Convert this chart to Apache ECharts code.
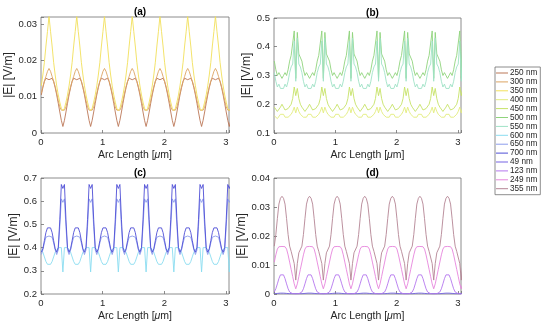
<!DOCTYPE html>
<html><head><meta charset="utf-8">
<script src="https://cdn.jsdelivr.net/npm/echarts@6/dist/echarts.min.js"></script>
<style>html,body{margin:0;padding:0;background:#fff}#c{width:550px;height:329px}</style>
</head><body><div id="c"></div>
<script>
// sampling grid of arc length (um)
const arcStart = 0.005, arcStep = 0.025;
const legendNames = ['250 nm','300 nm','350 nm','400 nm','450 nm','500 nm','550 nm','600 nm','650 nm','700 nm','49 nm','123 nm','249 nm','355 nm'];
const colors = ['#bb7656','#dca462','#f2e05a','#e2ec7c','#c6e266','#8fd47c','#9fe2c6','#8adcf0','#8c9cec','#4e4ed6','#7462e2','#b476ee','#e684dc','#b48494'];
const panelOf = [0,0,0,1,1,1,1,2,2,2,3,3,3,3];
const xTicks = [0,1,2,3];
const yA = [0,0.01,0.02,0.03], yB = [0.1,0.2,0.3,0.4,0.5], yC = [0.2,0.3,0.4,0.5,0.6,0.7], yD = [0,0.01,0.02,0.03,0.04];

const e250 = [0.0105,0.0125,0.0142,0.0151,0.0150,0.0147,0.0150,0.0151,0.0142,0.0125,0.0105,0.0082,0.0058,0.0035,0.0018,0.0035,0.0058,0.0082,
0.0105,0.0125,0.0142,0.0151,0.0150,0.0147,0.0150,0.0151,0.0142,0.0125,0.0105,0.0082,0.0058,0.0035,0.0018,0.0035,0.0058,0.0082,
0.0105,0.0125,0.0142,0.0151,0.0150,0.0147,0.0150,0.0151,0.0142,0.0125,0.0105,0.0082,0.0058,0.0035,0.0018,0.0035,0.0058,0.0082,
0.0105,0.0125,0.0142,0.0151,0.0150,0.0147,0.0150,0.0151,0.0142,0.0125,0.0105,0.0082,0.0058,0.0035,0.0018,0.0035,0.0058,0.0082,
0.0105,0.0125,0.0142,0.0151,0.0150,0.0147,0.0150,0.0151,0.0142,0.0125,0.0105,0.0082,0.0058,0.0035,0.0018,0.0035,0.0058,0.0082,
0.0105,0.0125,0.0142,0.0151,0.0150,0.0147,0.0150,0.0151,0.0142,0.0125,0.0105,0.0082,0.0058,0.0035,0.0018,0.0035,0.0058,0.0082,
0.0105,0.0125,0.0142,0.0151,0.0150,0.0147,0.0150,0.0151,0.0142,0.0125,0.0105,0.0082,0.0058,0.0035,0.0018,0.0035,0.0058,0.0082];
const e300 = [0.011,0.0128,0.0143,0.0156,0.017,0.0178,0.017,0.0156,0.0143,0.0128,0.011,0.009,0.0072,0.0063,0.006,0.0063,0.0072,0.009,
0.011,0.0128,0.0143,0.0156,0.017,0.0178,0.017,0.0156,0.0143,0.0128,0.011,0.009,0.0072,0.0063,0.006,0.0063,0.0072,0.009,
0.011,0.0128,0.0143,0.0156,0.017,0.0178,0.017,0.0156,0.0143,0.0128,0.011,0.009,0.0072,0.0063,0.006,0.0063,0.0072,0.009,
0.011,0.0128,0.0143,0.0156,0.017,0.0178,0.017,0.0156,0.0143,0.0128,0.011,0.009,0.0072,0.0063,0.006,0.0063,0.0072,0.009,
0.011,0.0128,0.0143,0.0156,0.017,0.0178,0.017,0.0156,0.0143,0.0128,0.011,0.009,0.0072,0.0063,0.006,0.0063,0.0072,0.009,
0.011,0.0128,0.0143,0.0156,0.017,0.0178,0.017,0.0156,0.0143,0.0128,0.011,0.009,0.0072,0.0063,0.006,0.0063,0.0072,0.009,
0.011,0.0128,0.0143,0.0156,0.017,0.0178,0.017,0.0156,0.0143,0.0128,0.011,0.009,0.0072,0.0063,0.006,0.0063,0.0072,0.009];
const e350 = [0.013,0.016,0.0195,0.024,0.028,0.0322,0.028,0.024,0.0195,0.016,0.013,0.0105,0.0085,0.0068,0.0062,0.0068,0.0085,0.0105,
0.013,0.016,0.0195,0.024,0.028,0.0322,0.028,0.024,0.0195,0.016,0.013,0.0105,0.0085,0.0068,0.0062,0.0068,0.0085,0.0105,
0.013,0.016,0.0195,0.024,0.028,0.0322,0.028,0.024,0.0195,0.016,0.013,0.0105,0.0085,0.0068,0.0062,0.0068,0.0085,0.0105,
0.013,0.016,0.0195,0.024,0.028,0.0322,0.028,0.024,0.0195,0.016,0.013,0.0105,0.0085,0.0068,0.0062,0.0068,0.0085,0.0105,
0.013,0.016,0.0195,0.024,0.028,0.0322,0.028,0.024,0.0195,0.016,0.013,0.0105,0.0085,0.0068,0.0062,0.0068,0.0085,0.0105,
0.013,0.016,0.0195,0.024,0.028,0.0322,0.028,0.024,0.0195,0.016,0.013,0.0105,0.0085,0.0068,0.0062,0.0068,0.0085,0.0105,
0.013,0.016,0.0195,0.024,0.028,0.0322,0.028,0.024,0.0195,0.016,0.013,0.0105,0.0085,0.0068,0.0062,0.0068,0.0085,0.0105];
const e400 = [0.16,0.155,0.15,0.155,0.165,0.17,0.165,0.155,0.15,0.155,0.16,0.165,0.175,0.19,0.17,0.19,0.175,0.165,
0.16,0.155,0.15,0.155,0.165,0.17,0.165,0.155,0.15,0.155,0.16,0.165,0.175,0.19,0.17,0.19,0.175,0.165,
0.16,0.155,0.15,0.155,0.165,0.17,0.165,0.155,0.15,0.155,0.16,0.165,0.175,0.19,0.17,0.19,0.175,0.165,
0.16,0.155,0.15,0.155,0.165,0.17,0.165,0.155,0.15,0.155,0.16,0.165,0.175,0.19,0.17,0.19,0.175,0.165,
0.16,0.155,0.15,0.155,0.165,0.17,0.165,0.155,0.15,0.155,0.16,0.165,0.175,0.19,0.17,0.19,0.175,0.165,
0.16,0.155,0.15,0.155,0.165,0.17,0.165,0.155,0.15,0.155,0.16,0.165,0.175,0.19,0.17,0.19,0.175,0.165,
0.16,0.155,0.15,0.155,0.165,0.17,0.165,0.155,0.15,0.155,0.16,0.165,0.175,0.19,0.17,0.19,0.175,0.165];
const e450 = [0.19,0.185,0.175,0.18,0.19,0.2,0.19,0.18,0.175,0.185,0.19,0.2,0.22,0.26,0.23,0.255,0.22,0.2,
0.19,0.185,0.175,0.18,0.19,0.2,0.19,0.18,0.175,0.185,0.19,0.2,0.22,0.26,0.23,0.255,0.22,0.2,
0.19,0.185,0.175,0.18,0.19,0.2,0.19,0.18,0.175,0.185,0.19,0.2,0.22,0.26,0.23,0.255,0.22,0.2,
0.19,0.185,0.175,0.18,0.19,0.2,0.19,0.18,0.175,0.185,0.19,0.2,0.22,0.26,0.23,0.255,0.22,0.2,
0.19,0.185,0.175,0.18,0.19,0.2,0.19,0.18,0.175,0.185,0.19,0.2,0.22,0.26,0.23,0.255,0.22,0.2,
0.19,0.185,0.175,0.18,0.19,0.2,0.19,0.18,0.175,0.185,0.19,0.2,0.22,0.26,0.23,0.255,0.22,0.2,
0.19,0.185,0.175,0.18,0.19,0.2,0.19,0.18,0.175,0.185,0.19,0.2,0.22,0.26,0.23,0.255,0.22,0.2];
const e500 = [0.35,0.32,0.3,0.31,0.3,0.29,0.3,0.31,0.3,0.32,0.35,0.37,0.375,0.455,0.29,0.45,0.375,0.37,
0.35,0.32,0.3,0.31,0.3,0.29,0.3,0.31,0.3,0.32,0.35,0.37,0.375,0.455,0.29,0.45,0.375,0.37,
0.35,0.32,0.3,0.31,0.3,0.29,0.3,0.31,0.3,0.32,0.35,0.37,0.375,0.455,0.29,0.45,0.375,0.37,
0.35,0.32,0.3,0.31,0.3,0.29,0.3,0.31,0.3,0.32,0.35,0.37,0.375,0.455,0.29,0.45,0.375,0.37,
0.35,0.32,0.3,0.31,0.3,0.29,0.3,0.31,0.3,0.32,0.35,0.37,0.375,0.455,0.29,0.45,0.375,0.37,
0.35,0.32,0.3,0.31,0.3,0.29,0.3,0.31,0.3,0.32,0.35,0.37,0.375,0.455,0.29,0.45,0.375,0.37,
0.35,0.32,0.3,0.31,0.3,0.29,0.3,0.31,0.3,0.32,0.35,0.37,0.375,0.455,0.29,0.45,0.375,0.37];
const e550 = [0.31,0.28,0.26,0.27,0.255,0.25,0.255,0.27,0.26,0.28,0.31,0.33,0.34,0.42,0.28,0.43,0.34,0.33,
0.31,0.28,0.26,0.27,0.255,0.25,0.255,0.27,0.26,0.28,0.31,0.33,0.34,0.42,0.28,0.43,0.34,0.33,
0.31,0.28,0.26,0.27,0.255,0.25,0.255,0.27,0.26,0.28,0.31,0.33,0.34,0.42,0.28,0.43,0.34,0.33,
0.31,0.28,0.26,0.27,0.255,0.25,0.255,0.27,0.26,0.28,0.31,0.33,0.34,0.42,0.28,0.43,0.34,0.33,
0.31,0.28,0.26,0.27,0.255,0.25,0.255,0.27,0.26,0.28,0.31,0.33,0.34,0.42,0.28,0.43,0.34,0.33,
0.31,0.28,0.26,0.27,0.255,0.25,0.255,0.27,0.26,0.28,0.31,0.33,0.34,0.42,0.28,0.43,0.34,0.33,
0.31,0.28,0.26,0.27,0.255,0.25,0.255,0.27,0.26,0.28,0.31,0.33,0.34,0.42,0.28,0.43,0.34,0.33];
const e600 = [0.39,0.38,0.36,0.34,0.328,0.325,0.328,0.34,0.36,0.38,0.39,0.4,0.405,0.4,0.295,0.4,0.405,0.4,
0.39,0.38,0.36,0.34,0.328,0.325,0.328,0.34,0.36,0.38,0.39,0.4,0.405,0.4,0.295,0.4,0.405,0.4,
0.39,0.38,0.36,0.34,0.328,0.325,0.328,0.34,0.36,0.38,0.39,0.4,0.405,0.4,0.295,0.4,0.405,0.4,
0.39,0.38,0.36,0.34,0.328,0.325,0.328,0.34,0.36,0.38,0.39,0.4,0.405,0.4,0.295,0.4,0.405,0.4,
0.39,0.38,0.36,0.34,0.328,0.325,0.328,0.34,0.36,0.38,0.39,0.4,0.405,0.4,0.295,0.4,0.405,0.4,
0.39,0.38,0.36,0.34,0.328,0.325,0.328,0.34,0.36,0.38,0.39,0.4,0.405,0.4,0.295,0.4,0.405,0.4,
0.39,0.38,0.36,0.34,0.328,0.325,0.328,0.34,0.36,0.38,0.39,0.4,0.405,0.4,0.295,0.4,0.405,0.4];
const e650 = [0.37,0.39,0.42,0.445,0.45,0.45,0.45,0.445,0.42,0.39,0.37,0.39,0.49,0.61,0.595,0.61,0.49,0.39,
0.37,0.39,0.42,0.445,0.45,0.45,0.45,0.445,0.42,0.39,0.37,0.39,0.49,0.61,0.595,0.61,0.49,0.39,
0.37,0.39,0.42,0.445,0.45,0.45,0.45,0.445,0.42,0.39,0.37,0.39,0.49,0.61,0.595,0.61,0.49,0.39,
0.37,0.39,0.42,0.445,0.45,0.45,0.45,0.445,0.42,0.39,0.37,0.39,0.49,0.61,0.595,0.61,0.49,0.39,
0.37,0.39,0.42,0.445,0.45,0.45,0.45,0.445,0.42,0.39,0.37,0.39,0.49,0.61,0.595,0.61,0.49,0.39,
0.37,0.39,0.42,0.445,0.45,0.45,0.45,0.445,0.42,0.39,0.37,0.39,0.49,0.61,0.595,0.61,0.49,0.39,
0.37,0.39,0.42,0.445,0.45,0.45,0.45,0.445,0.42,0.39,0.37,0.39,0.49,0.61,0.595,0.61,0.49,0.39];
const e700 = [0.38,0.395,0.43,0.465,0.485,0.49,0.485,0.465,0.43,0.395,0.38,0.4,0.52,0.672,0.655,0.672,0.52,0.4,
0.38,0.395,0.43,0.465,0.485,0.49,0.485,0.465,0.43,0.395,0.38,0.4,0.52,0.672,0.655,0.672,0.52,0.4,
0.38,0.395,0.43,0.465,0.485,0.49,0.485,0.465,0.43,0.395,0.38,0.4,0.52,0.672,0.655,0.672,0.52,0.4,
0.38,0.395,0.43,0.465,0.485,0.49,0.485,0.465,0.43,0.395,0.38,0.4,0.52,0.672,0.655,0.672,0.52,0.4,
0.38,0.395,0.43,0.465,0.485,0.49,0.485,0.465,0.43,0.395,0.38,0.4,0.52,0.672,0.655,0.672,0.52,0.4,
0.38,0.395,0.43,0.465,0.485,0.49,0.485,0.465,0.43,0.395,0.38,0.4,0.52,0.672,0.655,0.672,0.52,0.4,
0.38,0.395,0.43,0.465,0.485,0.49,0.485,0.465,0.43,0.395,0.38,0.4,0.52,0.672,0.655,0.672,0.52,0.4];
const e49 = [0.0001,0.0001,0.0002,0.0002,0.0003,0.0003,0.0003,0.0002,0.0002,0.0001,0.0001,0.0001,0.0001,0.0001,0.0001,0.0001,0.0001,0.0001,
0.0001,0.0001,0.0002,0.0002,0.0003,0.0003,0.0003,0.0002,0.0002,0.0001,0.0001,0.0001,0.0001,0.0001,0.0001,0.0001,0.0001,0.0001,
0.0001,0.0001,0.0002,0.0002,0.0003,0.0003,0.0003,0.0002,0.0002,0.0001,0.0001,0.0001,0.0001,0.0001,0.0001,0.0001,0.0001,0.0001,
0.0001,0.0001,0.0002,0.0002,0.0003,0.0003,0.0003,0.0002,0.0002,0.0001,0.0001,0.0001,0.0001,0.0001,0.0001,0.0001,0.0001,0.0001,
0.0001,0.0001,0.0002,0.0002,0.0003,0.0003,0.0003,0.0002,0.0002,0.0001,0.0001,0.0001,0.0001,0.0001,0.0001,0.0001,0.0001,0.0001,
0.0001,0.0001,0.0002,0.0002,0.0003,0.0003,0.0003,0.0002,0.0002,0.0001,0.0001,0.0001,0.0001,0.0001,0.0001,0.0001,0.0001,0.0001,
0.0001,0.0001,0.0002,0.0002,0.0003,0.0003,0.0003,0.0002,0.0002,0.0001,0.0001,0.0001,0.0001,0.0001,0.0001,0.0001,0.0001,0.0001];
const e123 = [0.0007,0.0018,0.0035,0.0053,0.0066,0.0071,0.0066,0.0053,0.0035,0.0018,0.0007,0.0002,0.0001,0,0,0,0.0001,0.0002,
0.0007,0.0018,0.0035,0.0053,0.0066,0.0071,0.0066,0.0053,0.0035,0.0018,0.0007,0.0002,0.0001,0,0,0,0.0001,0.0002,
0.0007,0.0018,0.0035,0.0053,0.0066,0.0071,0.0066,0.0053,0.0035,0.0018,0.0007,0.0002,0.0001,0,0,0,0.0001,0.0002,
0.0007,0.0018,0.0035,0.0053,0.0066,0.0071,0.0066,0.0053,0.0035,0.0018,0.0007,0.0002,0.0001,0,0,0,0.0001,0.0002,
0.0007,0.0018,0.0035,0.0053,0.0066,0.0071,0.0066,0.0053,0.0035,0.0018,0.0007,0.0002,0.0001,0,0,0,0.0001,0.0002,
0.0007,0.0018,0.0035,0.0053,0.0066,0.0071,0.0066,0.0053,0.0035,0.0018,0.0007,0.0002,0.0001,0,0,0,0.0001,0.0002,
0.0007,0.0018,0.0035,0.0053,0.0066,0.0071,0.0066,0.0053,0.0035,0.0018,0.0007,0.0002,0.0001,0,0,0,0.0001,0.0002];
const e249 = [0.011,0.0135,0.0155,0.0163,0.0165,0.0164,0.0165,0.0163,0.0155,0.0135,0.011,0.0085,0.006,0.0035,0.0018,0.0035,0.006,0.0085,
0.011,0.0135,0.0155,0.0163,0.0165,0.0164,0.0165,0.0163,0.0155,0.0135,0.011,0.0085,0.006,0.0035,0.0018,0.0035,0.006,0.0085,
0.011,0.0135,0.0155,0.0163,0.0165,0.0164,0.0165,0.0163,0.0155,0.0135,0.011,0.0085,0.006,0.0035,0.0018,0.0035,0.006,0.0085,
0.011,0.0135,0.0155,0.0163,0.0165,0.0164,0.0165,0.0163,0.0155,0.0135,0.011,0.0085,0.006,0.0035,0.0018,0.0035,0.006,0.0085,
0.011,0.0135,0.0155,0.0163,0.0165,0.0164,0.0165,0.0163,0.0155,0.0135,0.011,0.0085,0.006,0.0035,0.0018,0.0035,0.006,0.0085,
0.011,0.0135,0.0155,0.0163,0.0165,0.0164,0.0165,0.0163,0.0155,0.0135,0.011,0.0085,0.006,0.0035,0.0018,0.0035,0.006,0.0085,
0.011,0.0135,0.0155,0.0163,0.0165,0.0164,0.0165,0.0163,0.0155,0.0135,0.011,0.0085,0.006,0.0035,0.0018,0.0035,0.006,0.0085];
const e355 = [0.0165,0.0205,0.026,0.031,0.033,0.0337,0.033,0.031,0.026,0.0205,0.0165,0.0147,0.0142,0.0105,0.0048,0.0105,0.0142,0.0147,
0.0165,0.0205,0.026,0.031,0.033,0.0337,0.033,0.031,0.026,0.0205,0.0165,0.0147,0.0142,0.0105,0.0048,0.0105,0.0142,0.0147,
0.0165,0.0205,0.026,0.031,0.033,0.0337,0.033,0.031,0.026,0.0205,0.0165,0.0147,0.0142,0.0105,0.0048,0.0105,0.0142,0.0147,
0.0165,0.0205,0.026,0.031,0.033,0.0337,0.033,0.031,0.026,0.0205,0.0165,0.0147,0.0142,0.0105,0.0048,0.0105,0.0142,0.0147,
0.0165,0.0205,0.026,0.031,0.033,0.0337,0.033,0.031,0.026,0.0205,0.0165,0.0147,0.0142,0.0105,0.0048,0.0105,0.0142,0.0147,
0.0165,0.0205,0.026,0.031,0.033,0.0337,0.033,0.031,0.026,0.0205,0.0165,0.0147,0.0142,0.0105,0.0048,0.0105,0.0142,0.0147,
0.0165,0.0205,0.026,0.031,0.033,0.0337,0.033,0.031,0.026,0.0205,0.0165,0.0147,0.0142,0.0105,0.0048,0.0105,0.0142,0.0147];

const seriesValues = [e250,e300,e350,e400,e450,e500,e550,e600,e650,e700,e49,e123,e249,e355];

const FONT = '"Liberation Sans", Arial, Helvetica, sans-serif';
const INK = '#262626', BOX = '#707070';
const grids = [
  {left: 41, top: 17, width: 188, height: 116},
  {left: 274, top: 18, width: 187, height: 115},
  {left: 41, top: 178, width: 188, height: 116},
  {left: 274, top: 178, width: 187, height: 116}
];
const yDefs = [
  {min: 0, max: 0.032, interval: 0.01, ticks: yA, gap: 24},
  {min: 0.1, max: 0.5, interval: 0.1, ticks: yB, gap: 18},
  {min: 0.2, max: 0.7, interval: 0.1, ticks: yC, gap: 18},
  {min: 0, max: 0.04, interval: 0.01, ticks: yD, gap: 24}
];
function fmt(ticks){
  return function(v){
    for (const t of ticks){ if (Math.abs(v - t) < 1e-9) return String(t); }
    return '';
  };
}
const titles = ['(a)','(b)','(c)','(d)'];

const option = {
  backgroundColor: '#fff',
  animation: false,
  textStyle: {fontFamily: FONT},
  title: grids.map((g, i) => ({
    text: titles[i], left: g.left + g.width / 2, top: g.top - 15, textAlign: 'center',
    textStyle: {fontSize: 10, fontWeight: 'bold', color: '#000', fontFamily: FONT}
  })),
  grid: grids.map(g => Object.assign({show: true, borderColor: BOX, borderWidth: 0.8, backgroundColor: '#fff', containLabel: false}, g)),
  xAxis: grids.map((g, i) => ({
    type: 'value', gridIndex: i, min: 0, max: 3.05, interval: 1,
    name: 'Arc Length [{i|μ}m]', nameLocation: 'middle', nameGap: 17,
    nameTextStyle: {fontSize: 10.5, color: INK, fontFamily: FONT, rich: {i: {fontStyle: 'italic', fontSize: 10.5, color: INK, fontFamily: FONT}}},
    axisLine: {show: false},
    axisTick: {show: true, inside: true, length: 3, lineStyle: {color: BOX, width: 0.8}},
    axisLabel: {fontSize: 9.5, color: INK, margin: 4, formatter: fmt(xTicks), fontFamily: FONT},
    splitLine: {show: false}
  })),
  yAxis: yDefs.map((d, i) => ({
    type: 'value', gridIndex: i, min: d.min, max: d.max, interval: d.interval,
    name: '|E| [V/m]', nameLocation: 'middle', nameGap: d.gap, nameRotate: 90,
    nameTextStyle: {fontSize: 12, color: INK, fontFamily: FONT},
    axisLine: {show: false},
    axisTick: {show: true, inside: true, length: 3, lineStyle: {color: BOX, width: 0.8}},
    axisLabel: {fontSize: 9.5, color: INK, margin: 4, formatter: fmt(d.ticks), fontFamily: FONT},
    splitLine: {show: false}
  })),
  legend: {
    orient: 'vertical', left: 495, top: 67, itemWidth: 12, itemHeight: 8, itemGap: 0.9,
    icon: 'path://M0,0 L12,0 L12,1 L0,1 Z',
    padding: [2, 3, 2, 1], borderColor: BOX, borderWidth: 0.8, backgroundColor: '#fff',
    textStyle: {fontSize: 8.2, color: INK, fontFamily: FONT, padding: [0, 0, 0, -3]},
    data: legendNames
  },
  series: seriesValues.map((vals, s) => ({
    type: 'line', name: legendNames[s], xAxisIndex: panelOf[s], yAxisIndex: panelOf[s],
    color: colors[s], showSymbol: false, symbol: 'none', clip: true,
    lineStyle: {width: 0.9, color: colors[s]},
    data: vals.map((v, i) => [arcStart + i * arcStep, v])
  }))
};
const chart = echarts.init(document.getElementById('c'), null, {renderer: 'canvas'});
chart.setOption(option);
</script></body></html>
